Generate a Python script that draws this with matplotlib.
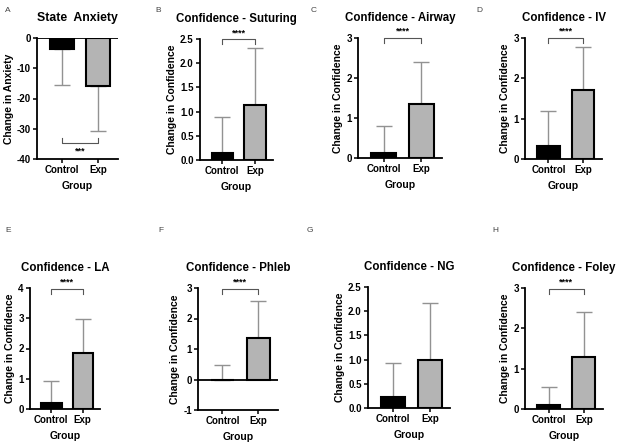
import matplotlib
matplotlib.use("Agg")
import matplotlib.pyplot as plt

plt.rcParams['font.family'] = ['Liberation Sans', 'DejaVu Sans']

groups = ["Control", "Exp"]
letters = ["A", "B", "C", "D", "E", "F", "G", "H"]
titles = ["State  Anxiety", "Confidence - Suturing", "Confidence - Airway", "Confidence - IV",
          "Confidence - LA", "Confidence - Phleb", "Confidence - NG", "Confidence - Foley"]
ylabels = ["Change in Anxiety"] + ["Change in Confidence"] * 7

# means and SD for Control / Exp
means = [[-3.7, -15.8], [0.14, 1.14], [0.12, 1.34], [0.33, 1.71],
         [0.19, 1.86], [0.0, 1.37], [0.22, 0.99], [0.10, 1.29]]
sds = [[11.8, 14.8], [0.74, 1.18], [0.67, 1.05], [0.86, 1.07],
       [0.72, 1.10], [0.48, 1.21], [0.70, 1.18], [0.44, 1.12]]

yticks = [[0, -10, -20, -30, -40], [0, 0.5, 1.0, 1.5, 2.0, 2.5], [0, 1, 2, 3], [0, 1, 2, 3],
          [0, 1, 2, 3, 4], [-1, 0, 1, 2, 3], [0, 0.5, 1.0, 1.5, 2.0, 2.5], [0, 1, 2, 3]]
ytick_fmt = ["{:.0f}", "{:.1f}", "{:.0f}", "{:.0f}", "{:.0f}", "{:.0f}", "{:.1f}", "{:.0f}"]
stars = ["***", "****", "****", "****", "****", "****", "", "****"]
# bracket (bar level, leg end)
brackets = [(-34.7, -33.0), (2.49, 2.40), (3.0, 2.87), (3.0, 2.87),
            (3.97, 3.80), (2.97, 2.80), None, (2.98, 2.84)]

# axes boxes in pixels (left, top, right, bottom)
boxes = [(37, 38, 118, 159), (200, 39, 273, 160), (358, 38, 442, 158), (525, 38, 602, 159),
         (30, 288, 100, 409), (198, 288, 278, 410), (368, 287, 450, 408), (525, 288, 603, 409)]
letter_pos = [(5, 10), (155, 10), (311, 10), (476, 10), (5, 230), (158, 230), (307, 230), (492, 230)]

W, H = 620, 443
fig = plt.figure(figsize=(6.2, 4.43), dpi=100)

for i in range(8):
    l, t, r, b = boxes[i]
    ax = fig.add_axes([l / W, 1 - b / H, (r - l) / W, (b - t) / H])
    x = [0, 1]
    m = means[i]
    s = sds[i]
    yerr_lo = [s[k] if m[k] < 0 else 0 for k in range(2)]
    yerr_hi = [s[k] if m[k] >= 0 else 0 for k in range(2)]
    ax.errorbar(x, m, yerr=[yerr_lo, yerr_hi], fmt="none", ecolor="#929292",
                elinewidth=1.0, capsize=6, capthick=1.0, zorder=1)
    ax.bar(x, m, width=0.65, color=["black", "#b4b4b4"], edgecolor="black",
           linewidth=1.5, zorder=2)

    ymin, ymax = yticks[i][-1], yticks[i][0]
    if ymin > ymax:
        ymin, ymax = ymax, ymin
    ax.set_ylim(ymin, ymax)
    ax.set_xlim(-0.68, 1.55)
    ax.set_yticks(yticks[i])
    ax.set_yticklabels([ytick_fmt[i].format(v) for v in yticks[i]])
    ax.set_xticks(x)
    ax.set_xticklabels(groups)
    if ymin < 0:
        ax.axhline(0, color="black", lw=1.3, zorder=3)

    for sp in ["top", "right"]:
        ax.spines[sp].set_visible(False)
    for sp in ["left", "bottom"]:
        ax.spines[sp].set_linewidth(1.3)
    ax.tick_params(axis="both", length=3, width=1.1, pad=1.5, labelsize=7)
    for lab in ax.get_xticklabels() + ax.get_yticklabels():
        lab.set_fontweight("bold")

    ax.set_ylabel(ylabels[i], fontsize=7.5, fontweight="bold", labelpad=2)
    ax.set_xlabel("Group", fontsize=7.5, fontweight="bold", labelpad=4)
    ax.set_title(titles[i], fontsize=8.8 if i == 0 else 8.3, fontweight="bold", pad=12)

    if brackets[i] is not None:
        yb, yl = brackets[i]
        ax.plot([0, 0, 1, 1], [yl, yb, yb, yl], color="#555555", lw=0.8, clip_on=False)
        if yb < 0:
            ax.text(0.5, yb - 1.2, stars[i], ha="center", va="top", fontsize=6.5,
                    fontweight="bold")
        else:
            span = ymax - ymin
            ax.text(0.5, yb + span * 0.02, stars[i], ha="center", va="bottom",
                    fontsize=6.5, fontweight="bold")

    lx, ly = letter_pos[i]
    fig.text(lx / W, 1 - ly / H, letters[i], fontsize=6, color="#444444", va="center")

fig.savefig("out.png", dpi=100)
